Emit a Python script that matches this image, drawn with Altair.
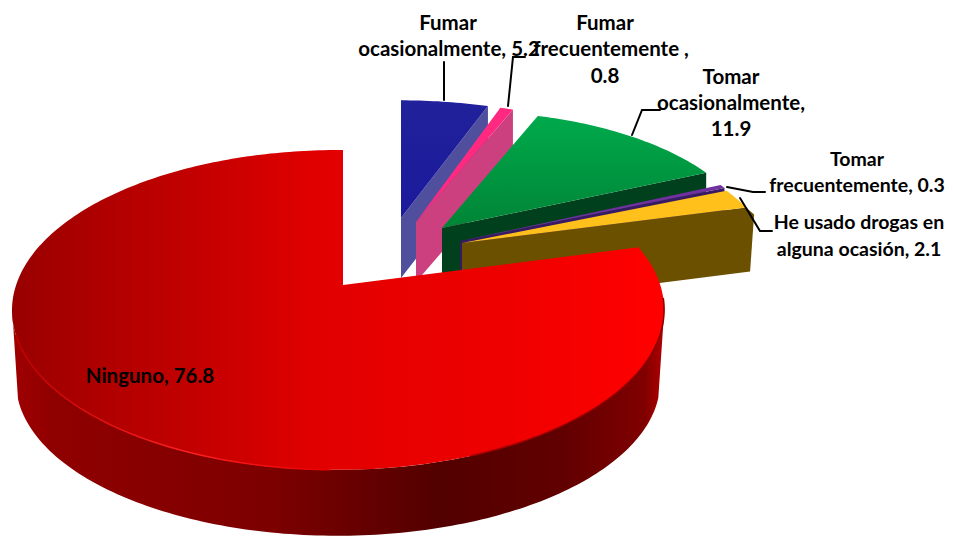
import math
import altair as alt
import pandas as pd

# Data
categories = ["Fumar ocasionalmente", "Fumar frecuentemente", "Tomar ocasionalmente",
              "Tomar frecuentemente", "He usado drogas en alguna ocasión", "Ninguno"]
values = [5.2, 0.8, 11.9, 0.3, 2.1, 76.8]

# Label text: one row per line (text, centre x, baseline-middle y)
label_text = ["Fumar", "ocasionalmente, 5.2", "Fumar", "frecuentemente ,", "0.8",
              "Tomar", "ocasionalmente,", "11.9", "Ninguno, 76.8"]
label_x = [448, 449, 605, 611, 605, 731, 731, 731, 150]
label_y = [24, 50, 24, 50, 77, 78, 104, 130, 377]
# Right-hand labels, which sit against the page edge
edge_text = ["Tomar", "frecuentemente, 0.3", "He usado drogas en", "alguna ocasión, 2.1"]
edge_x = [857, 857, 859, 859]
edge_y = [160, 186, 223, 250]

# Leader lines
leaders = [
    [(444, 100), (444, 62)],
    [(508, 106), (513, 57), (525, 57)],
    [(632, 135), (642, 110), (660, 110)],
    [(727, 187), (753, 192), (765, 192)],
    [(740, 198), (760, 231), (772, 231)],
]

W, H = 937, 530
total = sum(values)
cum = [0]
for v in values:
    cum.append(cum[-1] + v / total * 360)
ang = dict(zip(["blue", "pink", "green", "purple", "yellow", "red"], zip(cum[:-1], cum[1:])))


def pt(apex, A, B, k, m, deg):
    t = math.radians(deg)
    w = 1 + k * math.cos(t) + m * math.sin(t)
    return (apex[0] + A * math.sin(t) / w, apex[1] - B * math.cos(t) / w)


def arc(apex, A, B, k, m, d1, d2, n=None):
    n = n or max(3, int(abs(d2 - d1) / 1.0))
    return [pt(apex, A, B, k, m, d1 + (d2 - d1) * i / n) for i in range(n + 1)]


x_enc = alt.X("x:Q", scale=alt.Scale(domain=[8, 8 + W], nice=False, zero=False), axis=None)
y_enc = alt.Y("y:Q", scale=alt.Scale(domain=[8 + H, 8], nice=False, zero=False), axis=None)


def frame(points):
    return pd.DataFrame({"x": [p[0] for p in points], "y": [p[1] for p in points],
                         "o": range(len(points))})


def poly(points, fill):
    pts = list(points) + [points[0]]
    return alt.Chart(frame(pts)).mark_line(fill=fill, strokeWidth=0, clip=True, interpolate="linear").encode(
        x=x_enc, y=y_enc, order="o:Q")


def stroke_line(points, stroke, width, opacity=1.0):
    return alt.Chart(frame(points)).mark_line(stroke=stroke, strokeWidth=width, opacity=opacity, clip=True,
                                              strokeCap="round").encode(x=x_enc, y=y_enc, order="o:Q")


def hgrad(stops):
    return alt.Gradient(gradient="linear", x1=0, x2=1, y1=0, y2=0,
                        stops=[alt.GradientStop(offset=o, color=c) for o, c in stops])


def vgrad(c1, c2):
    return alt.Gradient(gradient="linear", x1=0, x2=0, y1=0, y2=1,
                        stops=[alt.GradientStop(offset=0, color=c1), alt.GradientStop(offset=1, color=c2)])


def wedge(apex, A, B, k, m, d1, d2):
    return [apex] + arc(apex, A, B, k, m, d1, d2)


def side(apex, end, t):
    return [end, apex, (apex[0], apex[1] + t), (end[0], end[1] + t)]


layers = []

# Blue
ap = (401, 218)
p = (302, 136, .156, 0)
layers.append(poly(side(ap, pt(ap, *p, ang["blue"][1]), 60), "#4f4f9e"))
layers.append(poly(wedge(ap, *p, *ang["blue"]), vgrad("#21219b", "#1a1a9c")))
# Pink
ap = (416, 222)
p = (293, 139, .156, 0)
layers.append(poly(side(ap, pt(ap, *p, ang["pink"][1]), 60), "#cc407f"))
layers.append(poly(wedge(ap, *p, *ang["pink"]), "#ff2a80"))
# Green
ap = (442, 228)
p = (280, 134, .156, -.1)
layers.append(poly(side(ap, pt(ap, *p, ang["green"][1]), 60), "#00401c"))
layers.append(poly(wedge(ap, *p, *ang["green"]), vgrad("#00aa4c", "#008436")))
# Purple
ap = (460, 241)
p = (277, 134, .156, -.1)
layers.append(poly(side(ap, pt(ap, *p, ang["purple"][1]), 60), "#371a63"))
layers.append(poly(wedge(ap, *p, ang["purple"][0] - .3, ang["purple"][1]), "#7030a0"))
# Yellow / brown
ap = (462, 243)
p = (277, 132, .156, -.1)
end = pt(ap, *p, ang["yellow"][1])
brown = [ap, end, (end[0] + 8, end[1] + 7), (end[0] + 4, end[1] + 64), (ap[0], ap[1] + 65)]
layers.append(poly(brown, "#6b5000"))
layers.append(poly(wedge(ap, *p, *ang["yellow"]), "#ffc01c"))

# Red
ap = (343, 285)
top = (322, 156, .156, .015)
bot_ap = (343, 358)
bot = (318, 150, .156, .015)
d1, d2 = ang["red"]
# Outer wall: silhouette of the two ellipses joined by their tangents
side_pts = arc(bot_ap, *bot, 105, 255) + arc(ap, *top, 262, 100)
layers.append(poly(side_pts, hgrad([(0, "#a00000"), (.06, "#900000"), (.4, "#7c0000"), (.66, "#520000"),
                                    (.85, "#620000"), (.97, "#800000"), (1, "#b00000")])))
layers.append(poly(wedge(ap, *top, d1, d2), hgrad([(0, "#980000"), (.14, "#b00000"), (.3, "#c60000"),
                                                   (.46, "#e00000"), (.6, "#e80000"), (.75, "#ee0000"),
                                                   (.92, "#fa0000"), (1, "#ff0000")])))
# Rim highlight and shadow
layers.append(stroke_line(arc(ap, *top, 182, 252), hgrad([(0, "#c00000"), (.55, "#ff2020"), (1, "#e80000")]), 1.5))
layers.append(stroke_line(arc(ap, *top, 95, 160), hgrad([(0, "#a00000"), (.6, "#900000"), (1, "#8a0000")]), 1.5))

# Leader lines
for pts in leaders:
    layers.append(stroke_line(pts, "#000000", 2))

# Labels
labels = pd.DataFrame({"t": label_text, "x": label_x, "y": label_y})
layers.append(alt.Chart(labels).mark_text(font="Lato", fontWeight="bold", fontSize=20.5, color="#000000",
                                          align="center", baseline="middle").encode(
    x=x_enc, y=y_enc, text="t:N"))
edge_labels = pd.DataFrame({"t": edge_text, "x": edge_x, "y": edge_y})
layers.append(alt.Chart(edge_labels).mark_text(font="Lato", fontWeight="bold", fontSize=19.5, color="#000000",
                                               align="center", baseline="middle").encode(
    x=x_enc, y=y_enc, text="t:N"))

chart = alt.layer(*layers).properties(
    width=W, height=H, padding=0, autosize=alt.AutoSizeParams(type="none"), background="#ffffff"
).configure_view(stroke=None)

chart.save("out.html", embed_options={"renderer": "svg", "actions": False})
